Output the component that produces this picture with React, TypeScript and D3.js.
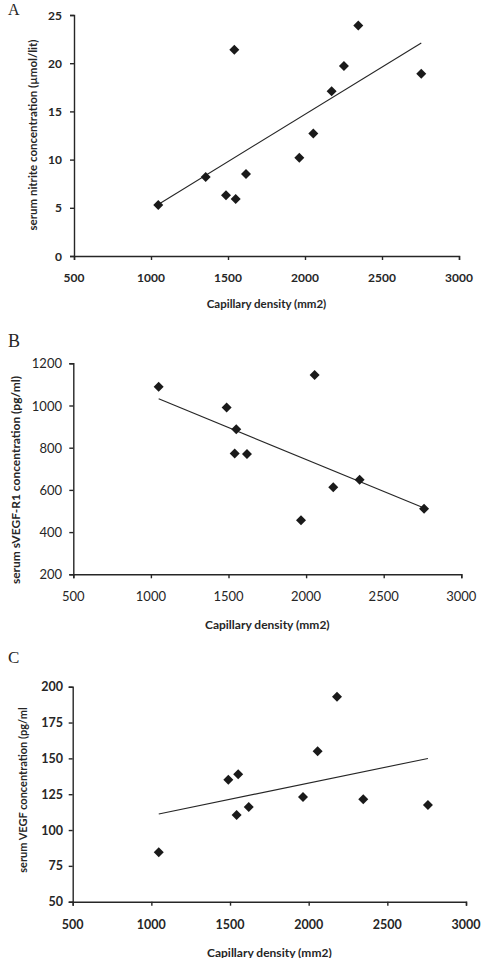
import React, { useEffect, useRef } from "react";
import * as d3 from "d3";

// shared x axis: capillary density
const densityTicks = [500, 1000, 1500, 2000, 2500, 3000];

// A: serum nitrite
const densityA = [1047, 1355, 1487, 1541, 1550, 1617, 1963, 2054, 2173, 2253, 2346, 2755];
const nitriteA = [5.3, 8.2, 6.3, 21.4, 5.9, 8.5, 10.2, 12.7, 17.1, 19.7, 23.9, 18.9];
const nitriteTicks = [0, 5, 10, 15, 20, 25];

// B: serum sVEGF-R1
const densityB = [1050, 1488, 1550, 1540, 1619, 1967, 2055, 2175, 2345, 2760];
const sVegfR1B = [1089, 991, 887, 772, 770, 456, 1144, 612, 648, 511];
const sVegfR1Ticks = [200, 400, 600, 800, 1000, 1200];

// C: serum VEGF
const densityC = [1047, 1489, 1552, 1542, 1619, 1964, 2057, 2180, 2347, 2758];
const vegfC = [84.5, 135, 139, 110.5, 116, 123, 155, 193, 121.5, 117.5];
const vegfTicks = [50, 75, 100, 125, 150, 175, 200];

const xTitle = "Capillary density (mm2)";
const ink = "#262626";
const font = "Lato, 'Open Sans', sans-serif";

const panels = [
  {
    letter: "A", letterX: 8, letterY: 15, letterSize: 16,
    xs: densityA, ys: nitriteA, yTicks: nitriteTicks,
    left: 74, right: 459, top: 15, bottom: 256,
    tickSize: 12, tickWeight: 700, yLabelX: 62, xLabelY: 277,
    xTitleY: 303, xTitleSize: 11.5,
    yTitle: "serum nitrite concentration (\u00b5mol/lit)", yTitleX: 32, yTitleY: 135, yTitleSize: 11.5,
  },
  {
    letter: "B", letterX: 8, letterY: 347, letterSize: 18,
    xs: densityB, ys: sVegfR1B, yTicks: sVegfR1Ticks,
    left: 73.3, right: 461.3, top: 363.3, bottom: 574.3,
    tickSize: 13, tickWeight: 400, yLabelX: 62, xLabelY: 596,
    xTitleY: 624, xTitleSize: 12,
    yTitle: "serum sVEGF-R1 concentration (pg/ml)", yTitleX: 15, yTitleY: 480, yTitleSize: 12,
  },
  {
    letter: "C", letterX: 8, letterY: 663, letterSize: 17,
    xs: densityC, ys: vegfC, yTicks: vegfTicks,
    left: 72.7, right: 466, top: 686.7, bottom: 901.7,
    tickSize: 12.5, tickWeight: 700, yLabelX: 63, xLabelY: 924,
    xTitleY: 952, xTitleSize: 12,
    yTitle: "serum VEGF concentration (pg/ml", yTitleX: 22, yTitleY: 790, yTitleSize: 11,
  },
];

const diamond = (r: number) => `M0,${-r}L${r},0L0,${r}L${-r},0Z`;

function drawPanel(svg: any, p: any) {
  const x = d3.scaleLinear().domain([500, 3000]).range([p.left, p.right]);
  const y = d3
    .scaleLinear()
    .domain(d3.extent(p.yTicks) as [number, number])
    .range([p.bottom, p.top]);

  const g = svg.append("g");

  // panel letter
  g.append("text")
    .attr("x", p.letterX)
    .attr("y", p.letterY)
    .attr("font-family", "'Liberation Serif', 'DejaVu Serif', serif")
    .attr("font-size", p.letterSize)
    .attr("fill", ink)
    .text(p.letter);

  // axis lines and tick marks
  const xAxis = g.append("g").attr("transform", `translate(0,${p.bottom})`)
    .call(d3.axisBottom(x).tickValues(densityTicks).tickSize(4).tickFormat(() => ""));
  const yAxis = g.append("g").attr("transform", `translate(${p.left},0)`)
    .call(d3.axisLeft(y).tickValues(p.yTicks).tickSize(4).tickFormat(() => ""));
  [xAxis, yAxis].forEach((a) => {
    a.selectAll("path, line").attr("stroke", ink).attr("stroke-width", 1.4);
  });

  // tick labels
  g.selectAll(".xl")
    .data(densityTicks)
    .join("text")
    .attr("x", (d: number) => x(d))
    .attr("y", p.xLabelY)
    .attr("text-anchor", "middle")
    .attr("dominant-baseline", "central")
    .attr("font-family", font)
    .attr("font-size", p.tickSize)
    .attr("font-weight", p.tickWeight)
    .attr("fill", ink)
    .text((d: number) => d);

  g.selectAll(".yl")
    .data(p.yTicks)
    .join("text")
    .attr("x", p.yLabelX)
    .attr("y", (d: number) => y(d))
    .attr("text-anchor", "end")
    .attr("dominant-baseline", "central")
    .attr("font-family", font)
    .attr("font-size", p.tickSize)
    .attr("font-weight", p.tickWeight)
    .attr("fill", ink)
    .text((d: number) => d);

  // axis titles
  g.append("text")
    .attr("x", (p.left + p.right) / 2)
    .attr("y", p.xTitleY)
    .attr("text-anchor", "middle")
    .attr("dominant-baseline", "central")
    .attr("font-family", font)
    .attr("font-size", p.xTitleSize)
    .attr("font-weight", 700)
    .attr("fill", ink)
    .text(xTitle);

  g.append("text")
    .attr("transform", `translate(${p.yTitleX},${p.yTitleY}) rotate(-90)`)
    .attr("text-anchor", "middle")
    .attr("dominant-baseline", "central")
    .attr("font-family", font)
    .attr("font-size", p.yTitleSize)
    .attr("font-weight", 700)
    .attr("fill", ink)
    .text(p.yTitle);

  // least-squares trend line over the data range
  const mx = d3.mean(p.xs) as number;
  const my = d3.mean(p.ys) as number;
  const sxy = d3.sum(p.xs, (v: number, i: number) => (v - mx) * (p.ys[i] - my));
  const sxx = d3.sum(p.xs, (v: number) => (v - mx) * (v - mx));
  const slope = sxy / sxx;
  const [x0, x1] = d3.extent(p.xs) as [number, number];
  const fit = [x0, x1].map((v) => [v, my + slope * (v - mx)]);

  g.append("path")
    .datum(fit)
    .attr("d", d3.line().x((d: any) => x(d[0])).y((d: any) => y(d[1])))
    .attr("fill", "none")
    .attr("stroke", ink)
    .attr("stroke-width", 1.1);

  // data points
  g.selectAll(".pt")
    .data(p.xs.map((v: number, i: number) => [v, p.ys[i]]))
    .join("path")
    .attr("transform", (d: number[]) => `translate(${x(d[0])},${y(d[1])})`)
    .attr("d", diamond(5))
    .attr("fill", "#1a1a1a");
}

const App = () => {
  const ref = useRef<SVGSVGElement>(null);

  useEffect(() => {
    const svg = d3.select(ref.current);
    svg.selectAll("*").remove();
    panels.forEach((p) => drawPanel(svg, p));
  }, []);

  return (
    <svg
      ref={ref}
      width={486}
      height={958}
      style={{ position: "absolute", left: 0, top: 0, background: "#fff" }}
    />
  );
};

export default App;
